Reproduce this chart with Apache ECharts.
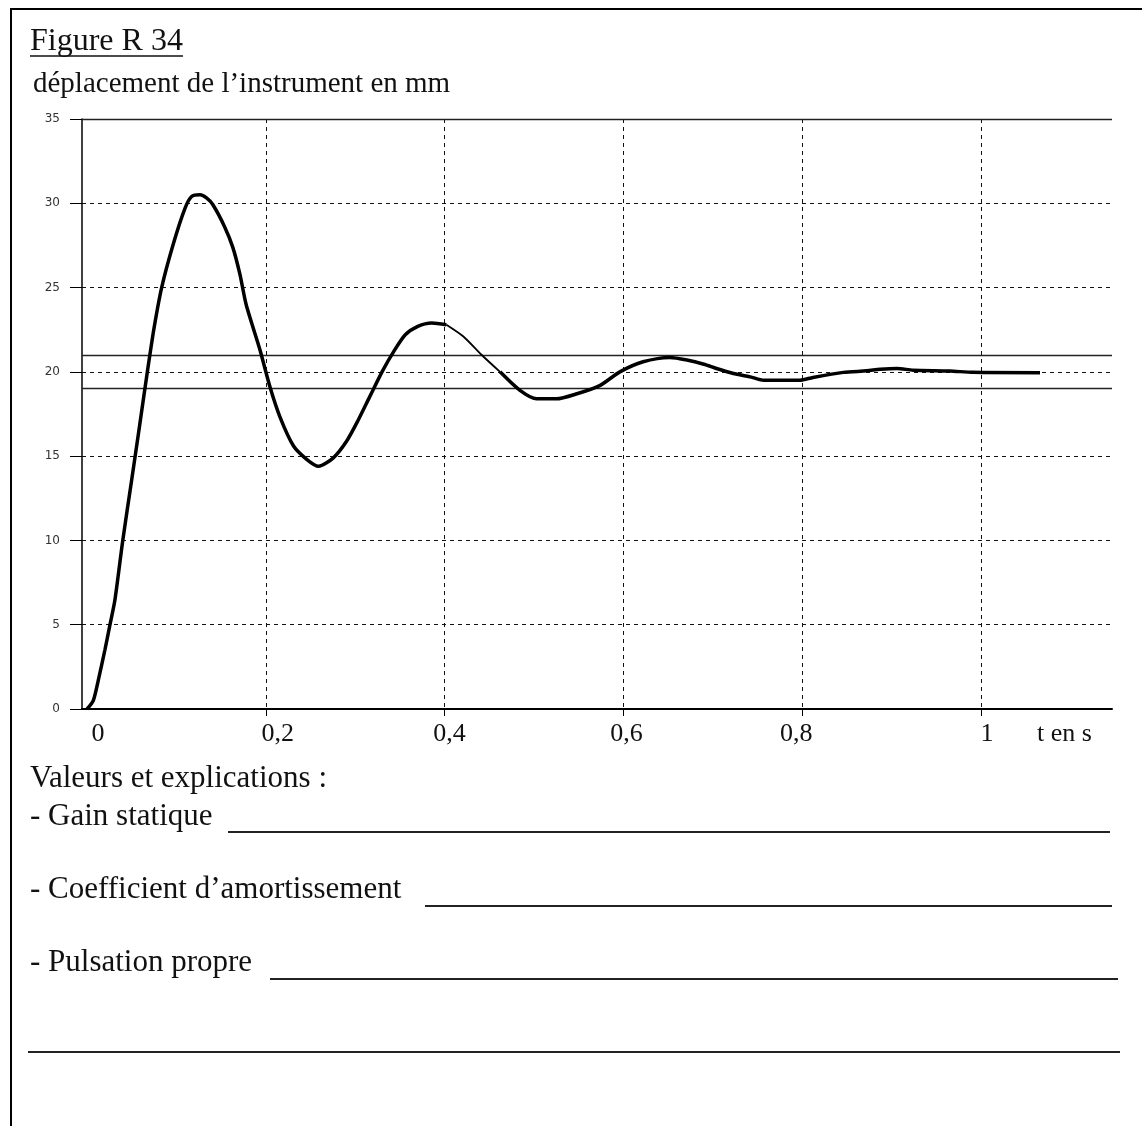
<!DOCTYPE html>
<html><head><meta charset="utf-8">
<script src="https://cdn.jsdelivr.net/npm/echarts@6/dist/echarts.min.js"></script>
<style>html,body{margin:0;padding:0;background:#fff}#c{width:1142px;height:1126px}</style>
</head><body><div id="c"></div>
<script>
// ---- data ----
const timeS = [0.000,0.007,0.0126,0.020,0.0257,0.0313,0.040,0.050,0.058,0.0675,0.075,0.0835,0.0966,0.1096,0.117,0.1264,0.134,0.141,0.154,0.163,0.171,0.178,0.1935,0.2047,0.216,0.231,0.246,0.259,0.2755,0.2905,0.303,0.316,0.330,0.343,0.356,0.370,0.3856,0.402,0.421,0.4415,0.462,0.4843,0.503,0.525,0.548,0.574,0.596,0.622,0.652,0.671,0.690,0.704,0.723,0.742,0.757,0.7975,0.812,0.846,0.872,0.887,0.906,0.924,0.965,0.991,1.066];
const displacementMm = [0,0.5,1.7,3.5,5.0,6.5,10.0,13.6,16.5,20.0,22.6,25.0,27.6,29.7,30.4,30.5,30.3,29.9,28.6,27.4,25.8,24.0,21.3,19.1,17.3,15.6,14.8,14.4,14.9,15.9,17.1,18.5,20.0,21.2,22.2,22.7,22.9,22.8,22.1,21.0,20.0,18.9,18.4,18.4,18.7,19.2,20.0,20.6,20.85,20.7,20.45,20.2,19.9,19.7,19.5,19.5,19.67,19.97,20.06,20.15,20.2,20.1,20.05,19.97,19.95];
const thinStartS = 0.402;   // part of the trace drawn with a thinner pen
const thinEndS = 0.462;
const xTickValues = [0,0.2,0.4,0.6,0.8,1];
const xTickLabels = ['0','0,2','0,4','0,6','0,8','1'];
const xGridValues = [0.2,0.4,0.6,0.8,1];
const yTickValues = [0,5,10,15,20,25,30,35];
const bandLines = [19,21];
const yTopLine = 35;
const xAxisName = 't en s';
const titleText = 'Figure R 34';
const yAxisTitle = 'déplacement de l’instrument en mm';
const formLines = ['Valeurs et explications :','- Gain statique','- Coefficient d’amortissement','- Pulsation propre'];

// ---- styling / layout ----
const SERIF = '"Liberation Serif","Times New Roman",serif';
const labelShift = [11,12,5,3,-6,6];
const rich = {};
labelShift.forEach((d,i)=>{
  rich['s'+i] = {fontFamily:SERIF,fontSize:26,color:'#111',
    padding: d>=0 ? [0,0,0,2*d] : [0,2*(-d),0,0]};
});

const allPts = timeS.map((t,i)=>[t,displacementMm[i]]);
const thickPts = [];
let gapAdded = false;
allPts.forEach(p=>{
  if (p[0] > thinStartS && p[0] < thinEndS) {
    if (!gapAdded) { thickPts.push([null,null]); gapAdded = true; }
  } else thickPts.push(p);
});
const thinPts = allPts.filter(p=>p[0] >= thinStartS && p[0] <= thinEndS);

const chart = echarts.init(document.getElementById('c'), null, {renderer:'canvas'});
const option = {
  backgroundColor:'#fff',
  animation:false,
  grid:{left:82,right:30,top:119,bottom:417,containLabel:false},
  xAxis:{
    type:'value', min:-0.0056, max:1.1465,
    name:xAxisName, nameLocation:'end', nameGap:-75,
    nameTextStyle:{fontFamily:SERIF,fontSize:26,color:'#111',align:'left',verticalAlign:'top',padding:[12,0,0,0]},
    axisLine:{show:true,lineStyle:{color:'#000',width:2}},
    axisTick:{show:true,length:7,customValues:xGridValues,lineStyle:{color:'#000',width:1}},
    axisLabel:{customValues:xTickValues,margin:12,
      formatter:function(v){
        let i = xTickValues.findIndex(t=>Math.abs(t-v)<1e-6);
        if(i<0) return '';
        return '{s'+i+'|'+xTickLabels[i]+'}';
      }, rich:rich},
    splitLine:{show:true,lineStyle:{color:'#111',width:1,type:[4,4]}}
  },
  yAxis:{
    type:'value', min:0, max:35, interval:5,
    axisLine:{show:true,onZero:false,lineStyle:{color:'#000',width:1.5}},
    axisTick:{show:true,length:12,lineStyle:{color:'#000',width:1}},
    axisLabel:{margin:22,fontFamily:'"DejaVu Sans",sans-serif',fontSize:12,color:'#333'},
    splitLine:{show:true,lineStyle:{color:'#111',width:1,type:[4,4]}}
  },
  series:[
    {type:'line', data:thickPts, symbol:'none', smooth:0.25, connectNulls:false,
     lineStyle:{color:'#000',width:3.5}, z:5,
     markLine:{silent:true,symbol:'none',label:{show:false},
       lineStyle:{color:'#222',width:1.3,type:'solid'},
       data:[{yAxis:yTopLine},...bandLines.map(v=>({yAxis:v}))]}},
    {type:'line', data:thinPts, symbol:'none', smooth:0.25,
     lineStyle:{color:'#000',width:1.8}, z:5}
  ],
  graphic:[
    {type:'line',shape:{x1:10,y1:9,x2:1142,y2:9},style:{stroke:'#000',lineWidth:2}},
    {type:'line',shape:{x1:11,y1:9,x2:11,y2:1126},style:{stroke:'#000',lineWidth:2}},
    {type:'text',left:30,top:26,style:{text:titleText,font:'32px '+SERIF,fill:'#111'}},
    {type:'line',shape:{x1:30,y1:56,x2:183,y2:56},style:{stroke:'#111',lineWidth:1.5}},
    {type:'text',left:33,top:70,style:{text:yAxisTitle,font:'29px '+SERIF,fill:'#111'}},
    {type:'text',left:30,top:763,style:{text:formLines[0],font:'31px '+SERIF,fill:'#111'}},
    {type:'text',left:30,top:801,style:{text:formLines[1],font:'31px '+SERIF,fill:'#111'}},
    {type:'line',shape:{x1:228,y1:832,x2:1110,y2:832},style:{stroke:'#222',lineWidth:2}},
    {type:'text',left:30,top:874,style:{text:formLines[2],font:'31px '+SERIF,fill:'#111'}},
    {type:'line',shape:{x1:425,y1:906,x2:1112,y2:906},style:{stroke:'#222',lineWidth:2}},
    {type:'text',left:30,top:947,style:{text:formLines[3],font:'31px '+SERIF,fill:'#111'}},
    {type:'line',shape:{x1:270,y1:979,x2:1118,y2:979},style:{stroke:'#222',lineWidth:2}},
    {type:'line',shape:{x1:28,y1:1052,x2:1120,y2:1052},style:{stroke:'#222',lineWidth:2}}
  ]
};
chart.setOption(option);
</script></body></html>
